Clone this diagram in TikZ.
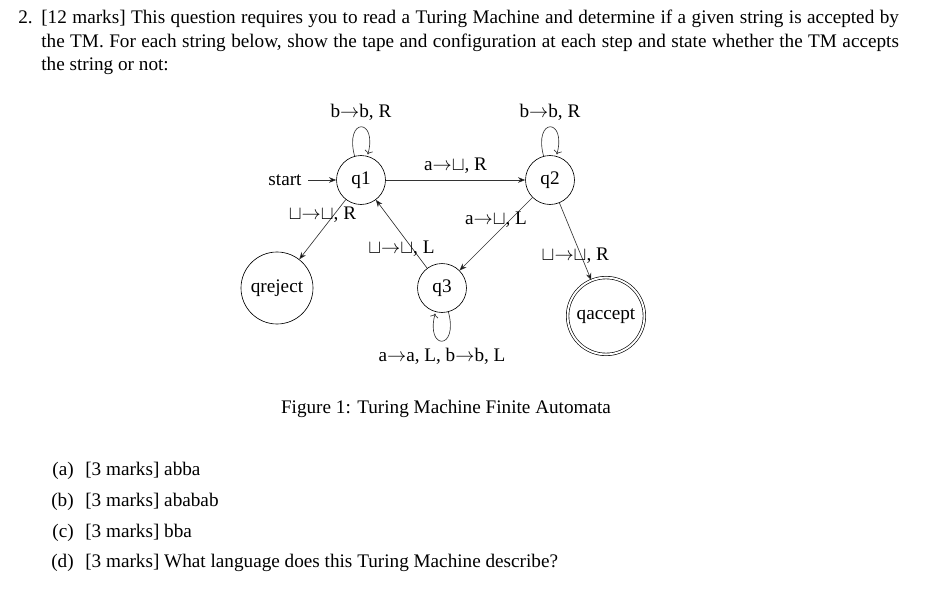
\documentclass[12pt,tikz,border=0pt]{standalone}
\usepackage{fontspec}
\setmainfont{Liberation Serif}
\usetikzlibrary{arrows.meta,positioning}

\begin{document}
\begin{tikzpicture}[x=0.625pt, y=0.625pt,
  tmstate/.style={draw, circle, inner sep=0pt, minimum size=30.6pt},
  tmbig/.style={tmstate, minimum size=45pt},
  tmaccept/.style={tmstate, minimum size=48pt, double, double distance=1.2pt},
  move/.style={-{Stealth[length=4.5pt,width=3.5pt]}, draw=black!80},
  txt/.style={inner sep=0pt, anchor=base west}
]
\useasboundingbox (0,0) rectangle (929,-589);
% question text
\node[txt] (num) at (18,-24) {2.};
\node[txt] (l1) at (41,-24) {\makebox[536pt][s]{[12 marks] This question requires you to read a Turing Machine and determine if a given string is accepted by}};
\node[txt] (l2) at (41,-47) {\makebox[536pt][s]{the TM. For each string below, show the tape and configuration at each step and state whether the TM accepts}};
\node[txt] (l3) at (41,-70) {the string or not:};

% states
\node[tmstate] (q1) at (361,-180) {q1};
\node[tmstate] (q2) at (550,-180) {q2};
\node[tmbig] (qrej) at (277,-288) {qreject};
\node[tmstate] (q3) at (442,-288) {q3};
\node[tmaccept] (qacc) at (606,-316) {qaccept};
\node (start) at (285,-180) {start};

% transitions
\path[move] (start) edge (q1)
  (q1) edge[loop above] node[above] {b$\rightarrow$b, R} (q1)
  (q2) edge[loop above] node[above] {b$\rightarrow$b, R} (q2)
  (q3) edge[loop below] node[below] {a$\rightarrow$a, L, b$\rightarrow$b, L} (q3)
  (q1) edge node[above] {a$\rightarrow$$\sqcup$, R} (q2)
  (q1) edge node[above] {$\sqcup$$\rightarrow$$\sqcup$, R} (qrej)
  (q3) edge node[below] {$\sqcup$$\rightarrow$$\sqcup$, L} (q1)
  (q2) edge node[above] {a$\rightarrow$$\sqcup$, L} (q3)
  (q2) edge node[below] {$\sqcup$$\rightarrow$$\sqcup$, R} (qacc);

% caption and parts
\node[anchor=base] (cap) at (446,-413) {Figure 1: Turing Machine Finite Automata};
\foreach \lbl/\body/\yy in {a/abba/475, b/ababab/506, c/bba/537, d/What language does this Turing Machine describe?/567} {
  \node[inner sep=0pt, anchor=base east] (p\lbl) at (74,-\yy) {(\lbl)};
  \node[txt] (t\lbl) at (85,-\yy) {[3 marks] \body};
}
\end{tikzpicture}
\end{document}
